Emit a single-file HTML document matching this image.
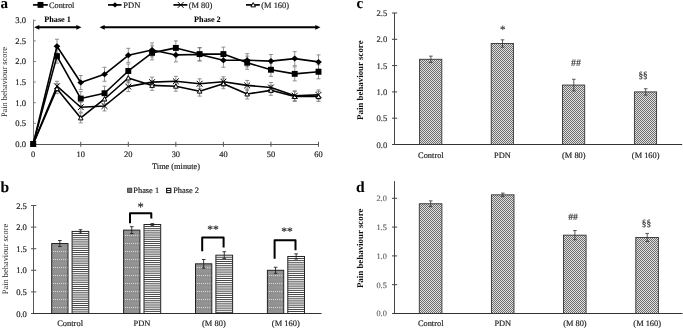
<!DOCTYPE html>
<html><head><meta charset="utf-8"><style>
html,body{margin:0;padding:0;background:#fff;}
svg{display:block;font-family:"Liberation Serif", serif;will-change:transform;text-rendering:geometricPrecision;}

</style></head><body>
<svg width="683" height="328" viewBox="0 0 683 328">
<defs>
<pattern id="check" width="2" height="2" patternUnits="userSpaceOnUse"><rect width="2" height="2" fill="#e0e0e0"/><rect width="1" height="1" fill="#6e6e6e"/><rect x="1" y="1" width="1" height="1" fill="#6e6e6e"/></pattern>
<pattern id="dots" width="2" height="8" patternUnits="userSpaceOnUse"><rect width="2" height="8" fill="#939393"/><rect x="1" y="3" width="1" height="1" fill="#d4d4d4"/><rect x="0" y="1" width="1" height="1" fill="#888"/><rect x="0" y="5" width="1" height="1" fill="#888"/></pattern>
<pattern id="hstripe" width="4" height="2" patternUnits="userSpaceOnUse"><rect width="4" height="2" fill="#f4f4f4"/><rect y="1" width="4" height="1" fill="#333"/></pattern>
</defs>
<rect width="683" height="328" fill="#fff"/>
<line x1="33.50" y1="19.80" x2="33.50" y2="144.40" stroke="#7a7a7a" stroke-width="1" />
<line x1="33.50" y1="143.90" x2="35.70" y2="143.90" stroke="#7a7a7a" stroke-width="1" />
<text x="26.10" y="146.80" font-size="8.6" text-anchor="end" font-weight="normal" fill="#222" stroke="#222" stroke-width="0.18" >0.0</text>
<line x1="33.50" y1="123.30" x2="35.70" y2="123.30" stroke="#7a7a7a" stroke-width="1" />
<text x="26.10" y="126.20" font-size="8.6" text-anchor="end" font-weight="normal" fill="#222" stroke="#222" stroke-width="0.18" >0.5</text>
<line x1="33.50" y1="102.70" x2="35.70" y2="102.70" stroke="#7a7a7a" stroke-width="1" />
<text x="26.10" y="105.60" font-size="8.6" text-anchor="end" font-weight="normal" fill="#222" stroke="#222" stroke-width="0.18" >1.0</text>
<line x1="33.50" y1="82.10" x2="35.70" y2="82.10" stroke="#7a7a7a" stroke-width="1" />
<text x="26.10" y="85.00" font-size="8.6" text-anchor="end" font-weight="normal" fill="#222" stroke="#222" stroke-width="0.18" >1.5</text>
<line x1="33.50" y1="61.50" x2="35.70" y2="61.50" stroke="#7a7a7a" stroke-width="1" />
<text x="26.10" y="64.40" font-size="8.6" text-anchor="end" font-weight="normal" fill="#222" stroke="#222" stroke-width="0.18" >2.0</text>
<line x1="33.50" y1="40.90" x2="35.70" y2="40.90" stroke="#7a7a7a" stroke-width="1" />
<text x="26.10" y="43.80" font-size="8.6" text-anchor="end" font-weight="normal" fill="#222" stroke="#222" stroke-width="0.18" >2.5</text>
<line x1="33.50" y1="20.30" x2="35.70" y2="20.30" stroke="#7a7a7a" stroke-width="1" />
<text x="26.10" y="23.20" font-size="8.6" text-anchor="end" font-weight="normal" fill="#222" stroke="#222" stroke-width="0.18" >3.0</text>
<line x1="33.20" y1="144.50" x2="319.00" y2="144.50" stroke="#555" stroke-width="1" />
<line x1="33.20" y1="141.80" x2="33.20" y2="146.80" stroke="#555" stroke-width="1" />
<text x="33.20" y="157.30" font-size="8.4" text-anchor="middle" font-weight="normal" fill="#222" stroke="#222" stroke-width="0.18" >0</text>
<line x1="80.75" y1="141.80" x2="80.75" y2="146.80" stroke="#555" stroke-width="1" />
<text x="80.75" y="157.30" font-size="8.4" text-anchor="middle" font-weight="normal" fill="#222" stroke="#222" stroke-width="0.18" >10</text>
<line x1="128.30" y1="141.80" x2="128.30" y2="146.80" stroke="#555" stroke-width="1" />
<text x="128.30" y="157.30" font-size="8.4" text-anchor="middle" font-weight="normal" fill="#222" stroke="#222" stroke-width="0.18" >20</text>
<line x1="175.85" y1="141.80" x2="175.85" y2="146.80" stroke="#555" stroke-width="1" />
<text x="175.85" y="157.30" font-size="8.4" text-anchor="middle" font-weight="normal" fill="#222" stroke="#222" stroke-width="0.18" >30</text>
<line x1="223.40" y1="141.80" x2="223.40" y2="146.80" stroke="#555" stroke-width="1" />
<text x="223.40" y="157.30" font-size="8.4" text-anchor="middle" font-weight="normal" fill="#222" stroke="#222" stroke-width="0.18" >40</text>
<line x1="270.95" y1="141.80" x2="270.95" y2="146.80" stroke="#555" stroke-width="1" />
<text x="270.95" y="157.30" font-size="8.4" text-anchor="middle" font-weight="normal" fill="#222" stroke="#222" stroke-width="0.18" >50</text>
<line x1="318.50" y1="141.80" x2="318.50" y2="146.80" stroke="#555" stroke-width="1" />
<text x="318.50" y="157.30" font-size="8.4" text-anchor="middle" font-weight="normal" fill="#222" stroke="#222" stroke-width="0.18" >60</text>
<text x="176.00" y="168.80" font-size="8.3" text-anchor="middle" font-weight="normal" fill="#222" stroke="#222" stroke-width="0.18" >Time (minute)</text>
<text transform="translate(7.0,82.1) rotate(-90)" font-size="8.35" text-anchor="middle" fill="#222">Pain behaviour score</text>
<line x1="33.00" y1="4.90" x2="47.80" y2="4.90" stroke="#000" stroke-width="1.7" />
<rect x="37.55" y="1.95" width="5.9" height="5.9" fill="#000"/>
<text x="49.00" y="7.80" font-size="8.3" text-anchor="start" font-weight="normal" fill="#222" stroke="#222" stroke-width="0.18" >Control</text>
<line x1="108.00" y1="4.90" x2="121.50" y2="4.90" stroke="#000" stroke-width="1.7" />
<path d="M115.00 2.20 L117.90 4.90 L115.00 7.60 L112.10 4.90Z" fill="#000"/>
<text x="123.30" y="7.80" font-size="8.5" text-anchor="start" font-weight="normal" fill="#222" stroke="#222" stroke-width="0.18" >PDN</text>
<line x1="173.40" y1="4.90" x2="187.40" y2="4.90" stroke="#000" stroke-width="1.7" />
<path d="M177.80 2.00 L183.60 7.80 M183.60 2.00 L177.80 7.80" stroke="#000" stroke-width="1" fill="none"/>
<text x="188.70" y="7.80" font-size="8.45" text-anchor="start" font-weight="normal" fill="#222" stroke="#222" stroke-width="0.18" >(M 80)</text>
<line x1="246.00" y1="4.90" x2="259.80" y2="4.90" stroke="#000" stroke-width="1.7" />
<path d="M253.20 2.60 L255.50 6.86 L250.90 6.86Z" stroke="#000" stroke-width="1" fill="#fff"/>
<text x="261.30" y="7.80" font-size="8.4" text-anchor="start" font-weight="normal" fill="#222" stroke="#222" stroke-width="0.18" >(M 160)</text>
<line x1="38.10" y1="27.30" x2="77.50" y2="27.30" stroke="#000" stroke-width="2" />
<path d="M34.10 27.3 L39.30 24.90 L39.30 29.70Z" fill="#000"/>
<path d="M81.50 27.3 L76.30 24.90 L76.30 29.70Z" fill="#000"/>
<line x1="103.50" y1="27.30" x2="316.50" y2="27.30" stroke="#000" stroke-width="2" />
<path d="M99.50 27.3 L104.70 24.90 L104.70 29.70Z" fill="#000"/>
<path d="M320.50 27.3 L315.30 24.90 L315.30 29.70Z" fill="#000"/>
<text x="57.60" y="22.20" font-size="8.2" text-anchor="middle" font-weight="bold" fill="#000" stroke="#000" stroke-width="0.05" >Phase 1</text>
<text x="207.40" y="22.20" font-size="8.2" text-anchor="middle" font-weight="bold" fill="#000" stroke="#000" stroke-width="0.05" >Phase 2</text>
<line x1="33.20" y1="141.84" x2="33.20" y2="145.96" stroke="#777" stroke-width="0.8" />
<line x1="31.20" y1="141.84" x2="35.20" y2="141.84" stroke="#777" stroke-width="0.8" />
<line x1="31.20" y1="145.96" x2="35.20" y2="145.96" stroke="#777" stroke-width="0.8" />
<line x1="56.98" y1="83.75" x2="56.98" y2="93.64" stroke="#777" stroke-width="0.8" />
<line x1="54.98" y1="83.75" x2="58.98" y2="83.75" stroke="#777" stroke-width="0.8" />
<line x1="54.98" y1="93.64" x2="58.98" y2="93.64" stroke="#777" stroke-width="0.8" />
<line x1="80.75" y1="113.00" x2="80.75" y2="122.89" stroke="#777" stroke-width="0.8" />
<line x1="78.75" y1="113.00" x2="82.75" y2="113.00" stroke="#777" stroke-width="0.8" />
<line x1="78.75" y1="122.89" x2="82.75" y2="122.89" stroke="#777" stroke-width="0.8" />
<line x1="104.53" y1="94.05" x2="104.53" y2="103.94" stroke="#777" stroke-width="0.8" />
<line x1="102.53" y1="94.05" x2="106.53" y2="94.05" stroke="#777" stroke-width="0.8" />
<line x1="102.53" y1="103.94" x2="106.53" y2="103.94" stroke="#777" stroke-width="0.8" />
<line x1="128.30" y1="73.04" x2="128.30" y2="82.92" stroke="#777" stroke-width="0.8" />
<line x1="126.30" y1="73.04" x2="130.30" y2="73.04" stroke="#777" stroke-width="0.8" />
<line x1="126.30" y1="82.92" x2="130.30" y2="82.92" stroke="#777" stroke-width="0.8" />
<line x1="152.07" y1="80.45" x2="152.07" y2="90.34" stroke="#777" stroke-width="0.8" />
<line x1="150.07" y1="80.45" x2="154.07" y2="80.45" stroke="#777" stroke-width="0.8" />
<line x1="150.07" y1="90.34" x2="154.07" y2="90.34" stroke="#777" stroke-width="0.8" />
<line x1="175.85" y1="81.28" x2="175.85" y2="91.16" stroke="#777" stroke-width="0.8" />
<line x1="173.85" y1="81.28" x2="177.85" y2="81.28" stroke="#777" stroke-width="0.8" />
<line x1="173.85" y1="91.16" x2="177.85" y2="91.16" stroke="#777" stroke-width="0.8" />
<line x1="199.62" y1="86.22" x2="199.62" y2="96.11" stroke="#777" stroke-width="0.8" />
<line x1="197.62" y1="86.22" x2="201.62" y2="86.22" stroke="#777" stroke-width="0.8" />
<line x1="197.62" y1="96.11" x2="201.62" y2="96.11" stroke="#777" stroke-width="0.8" />
<line x1="223.40" y1="78.80" x2="223.40" y2="88.69" stroke="#777" stroke-width="0.8" />
<line x1="221.40" y1="78.80" x2="225.40" y2="78.80" stroke="#777" stroke-width="0.8" />
<line x1="221.40" y1="88.69" x2="225.40" y2="88.69" stroke="#777" stroke-width="0.8" />
<line x1="247.18" y1="89.10" x2="247.18" y2="98.99" stroke="#777" stroke-width="0.8" />
<line x1="245.18" y1="89.10" x2="249.18" y2="89.10" stroke="#777" stroke-width="0.8" />
<line x1="245.18" y1="98.99" x2="249.18" y2="98.99" stroke="#777" stroke-width="0.8" />
<line x1="270.95" y1="85.40" x2="270.95" y2="95.28" stroke="#777" stroke-width="0.8" />
<line x1="268.95" y1="85.40" x2="272.95" y2="85.40" stroke="#777" stroke-width="0.8" />
<line x1="268.95" y1="95.28" x2="272.95" y2="95.28" stroke="#777" stroke-width="0.8" />
<line x1="294.72" y1="91.58" x2="294.72" y2="101.46" stroke="#777" stroke-width="0.8" />
<line x1="292.72" y1="91.58" x2="296.72" y2="91.58" stroke="#777" stroke-width="0.8" />
<line x1="292.72" y1="101.46" x2="296.72" y2="101.46" stroke="#777" stroke-width="0.8" />
<line x1="318.50" y1="91.58" x2="318.50" y2="101.46" stroke="#777" stroke-width="0.8" />
<line x1="316.50" y1="91.58" x2="320.50" y2="91.58" stroke="#777" stroke-width="0.8" />
<line x1="316.50" y1="101.46" x2="320.50" y2="101.46" stroke="#777" stroke-width="0.8" />
<line x1="33.20" y1="141.84" x2="33.20" y2="145.96" stroke="#777" stroke-width="0.8" />
<line x1="31.20" y1="141.84" x2="35.20" y2="141.84" stroke="#777" stroke-width="0.8" />
<line x1="31.20" y1="145.96" x2="35.20" y2="145.96" stroke="#777" stroke-width="0.8" />
<line x1="56.98" y1="81.28" x2="56.98" y2="91.16" stroke="#777" stroke-width="0.8" />
<line x1="54.98" y1="81.28" x2="58.98" y2="81.28" stroke="#777" stroke-width="0.8" />
<line x1="54.98" y1="91.16" x2="58.98" y2="91.16" stroke="#777" stroke-width="0.8" />
<line x1="80.75" y1="102.29" x2="80.75" y2="112.18" stroke="#777" stroke-width="0.8" />
<line x1="78.75" y1="102.29" x2="82.75" y2="102.29" stroke="#777" stroke-width="0.8" />
<line x1="78.75" y1="112.18" x2="82.75" y2="112.18" stroke="#777" stroke-width="0.8" />
<line x1="104.53" y1="101.05" x2="104.53" y2="110.94" stroke="#777" stroke-width="0.8" />
<line x1="102.53" y1="101.05" x2="106.53" y2="101.05" stroke="#777" stroke-width="0.8" />
<line x1="102.53" y1="110.94" x2="106.53" y2="110.94" stroke="#777" stroke-width="0.8" />
<line x1="128.30" y1="81.69" x2="128.30" y2="91.58" stroke="#777" stroke-width="0.8" />
<line x1="126.30" y1="81.69" x2="130.30" y2="81.69" stroke="#777" stroke-width="0.8" />
<line x1="126.30" y1="91.58" x2="130.30" y2="91.58" stroke="#777" stroke-width="0.8" />
<line x1="152.07" y1="77.16" x2="152.07" y2="87.04" stroke="#777" stroke-width="0.8" />
<line x1="150.07" y1="77.16" x2="154.07" y2="77.16" stroke="#777" stroke-width="0.8" />
<line x1="150.07" y1="87.04" x2="154.07" y2="87.04" stroke="#777" stroke-width="0.8" />
<line x1="175.85" y1="76.33" x2="175.85" y2="86.22" stroke="#777" stroke-width="0.8" />
<line x1="173.85" y1="76.33" x2="177.85" y2="76.33" stroke="#777" stroke-width="0.8" />
<line x1="173.85" y1="86.22" x2="177.85" y2="86.22" stroke="#777" stroke-width="0.8" />
<line x1="199.62" y1="78.80" x2="199.62" y2="88.69" stroke="#777" stroke-width="0.8" />
<line x1="197.62" y1="78.80" x2="201.62" y2="78.80" stroke="#777" stroke-width="0.8" />
<line x1="197.62" y1="88.69" x2="201.62" y2="88.69" stroke="#777" stroke-width="0.8" />
<line x1="223.40" y1="76.74" x2="223.40" y2="86.63" stroke="#777" stroke-width="0.8" />
<line x1="221.40" y1="76.74" x2="225.40" y2="76.74" stroke="#777" stroke-width="0.8" />
<line x1="221.40" y1="86.63" x2="225.40" y2="86.63" stroke="#777" stroke-width="0.8" />
<line x1="247.18" y1="80.45" x2="247.18" y2="90.34" stroke="#777" stroke-width="0.8" />
<line x1="245.18" y1="80.45" x2="249.18" y2="80.45" stroke="#777" stroke-width="0.8" />
<line x1="245.18" y1="90.34" x2="249.18" y2="90.34" stroke="#777" stroke-width="0.8" />
<line x1="270.95" y1="82.51" x2="270.95" y2="92.40" stroke="#777" stroke-width="0.8" />
<line x1="268.95" y1="82.51" x2="272.95" y2="82.51" stroke="#777" stroke-width="0.8" />
<line x1="268.95" y1="92.40" x2="272.95" y2="92.40" stroke="#777" stroke-width="0.8" />
<line x1="294.72" y1="90.75" x2="294.72" y2="100.64" stroke="#777" stroke-width="0.8" />
<line x1="292.72" y1="90.75" x2="296.72" y2="90.75" stroke="#777" stroke-width="0.8" />
<line x1="292.72" y1="100.64" x2="296.72" y2="100.64" stroke="#777" stroke-width="0.8" />
<line x1="318.50" y1="89.93" x2="318.50" y2="99.82" stroke="#777" stroke-width="0.8" />
<line x1="316.50" y1="89.93" x2="320.50" y2="89.93" stroke="#777" stroke-width="0.8" />
<line x1="316.50" y1="99.82" x2="320.50" y2="99.82" stroke="#777" stroke-width="0.8" />
<line x1="33.20" y1="141.84" x2="33.20" y2="145.96" stroke="#777" stroke-width="0.8" />
<line x1="31.20" y1="141.84" x2="35.20" y2="141.84" stroke="#777" stroke-width="0.8" />
<line x1="31.20" y1="145.96" x2="35.20" y2="145.96" stroke="#777" stroke-width="0.8" />
<line x1="56.98" y1="49.14" x2="56.98" y2="63.15" stroke="#777" stroke-width="0.8" />
<line x1="54.98" y1="49.14" x2="58.98" y2="49.14" stroke="#777" stroke-width="0.8" />
<line x1="54.98" y1="63.15" x2="58.98" y2="63.15" stroke="#777" stroke-width="0.8" />
<line x1="80.75" y1="91.58" x2="80.75" y2="105.58" stroke="#777" stroke-width="0.8" />
<line x1="78.75" y1="91.58" x2="82.75" y2="91.58" stroke="#777" stroke-width="0.8" />
<line x1="78.75" y1="105.58" x2="82.75" y2="105.58" stroke="#777" stroke-width="0.8" />
<line x1="104.53" y1="86.22" x2="104.53" y2="100.23" stroke="#777" stroke-width="0.8" />
<line x1="102.53" y1="86.22" x2="106.53" y2="86.22" stroke="#777" stroke-width="0.8" />
<line x1="102.53" y1="100.23" x2="106.53" y2="100.23" stroke="#777" stroke-width="0.8" />
<line x1="128.30" y1="63.97" x2="128.30" y2="77.98" stroke="#777" stroke-width="0.8" />
<line x1="126.30" y1="63.97" x2="130.30" y2="63.97" stroke="#777" stroke-width="0.8" />
<line x1="126.30" y1="77.98" x2="130.30" y2="77.98" stroke="#777" stroke-width="0.8" />
<line x1="152.07" y1="45.84" x2="152.07" y2="59.85" stroke="#777" stroke-width="0.8" />
<line x1="150.07" y1="45.84" x2="154.07" y2="45.84" stroke="#777" stroke-width="0.8" />
<line x1="150.07" y1="59.85" x2="154.07" y2="59.85" stroke="#777" stroke-width="0.8" />
<line x1="175.85" y1="40.90" x2="175.85" y2="54.91" stroke="#777" stroke-width="0.8" />
<line x1="173.85" y1="40.90" x2="177.85" y2="40.90" stroke="#777" stroke-width="0.8" />
<line x1="173.85" y1="54.91" x2="177.85" y2="54.91" stroke="#777" stroke-width="0.8" />
<line x1="199.62" y1="47.49" x2="199.62" y2="60.68" stroke="#777" stroke-width="0.8" />
<line x1="197.62" y1="47.49" x2="201.62" y2="47.49" stroke="#777" stroke-width="0.8" />
<line x1="197.62" y1="60.68" x2="201.62" y2="60.68" stroke="#777" stroke-width="0.8" />
<line x1="223.40" y1="47.08" x2="223.40" y2="61.09" stroke="#777" stroke-width="0.8" />
<line x1="221.40" y1="47.08" x2="225.40" y2="47.08" stroke="#777" stroke-width="0.8" />
<line x1="221.40" y1="61.09" x2="225.40" y2="61.09" stroke="#777" stroke-width="0.8" />
<line x1="247.18" y1="56.14" x2="247.18" y2="69.33" stroke="#777" stroke-width="0.8" />
<line x1="245.18" y1="56.14" x2="249.18" y2="56.14" stroke="#777" stroke-width="0.8" />
<line x1="245.18" y1="69.33" x2="249.18" y2="69.33" stroke="#777" stroke-width="0.8" />
<line x1="270.95" y1="63.15" x2="270.95" y2="76.33" stroke="#777" stroke-width="0.8" />
<line x1="268.95" y1="63.15" x2="272.95" y2="63.15" stroke="#777" stroke-width="0.8" />
<line x1="268.95" y1="76.33" x2="272.95" y2="76.33" stroke="#777" stroke-width="0.8" />
<line x1="294.72" y1="66.86" x2="294.72" y2="80.86" stroke="#777" stroke-width="0.8" />
<line x1="292.72" y1="66.86" x2="296.72" y2="66.86" stroke="#777" stroke-width="0.8" />
<line x1="292.72" y1="80.86" x2="296.72" y2="80.86" stroke="#777" stroke-width="0.8" />
<line x1="318.50" y1="64.80" x2="318.50" y2="78.80" stroke="#777" stroke-width="0.8" />
<line x1="316.50" y1="64.80" x2="320.50" y2="64.80" stroke="#777" stroke-width="0.8" />
<line x1="316.50" y1="78.80" x2="320.50" y2="78.80" stroke="#777" stroke-width="0.8" />
<line x1="33.20" y1="141.84" x2="33.20" y2="145.96" stroke="#777" stroke-width="0.8" />
<line x1="31.20" y1="141.84" x2="35.20" y2="141.84" stroke="#777" stroke-width="0.8" />
<line x1="31.20" y1="145.96" x2="35.20" y2="145.96" stroke="#777" stroke-width="0.8" />
<line x1="56.98" y1="39.25" x2="56.98" y2="53.26" stroke="#777" stroke-width="0.8" />
<line x1="54.98" y1="39.25" x2="58.98" y2="39.25" stroke="#777" stroke-width="0.8" />
<line x1="54.98" y1="53.26" x2="58.98" y2="53.26" stroke="#777" stroke-width="0.8" />
<line x1="80.75" y1="75.51" x2="80.75" y2="89.52" stroke="#777" stroke-width="0.8" />
<line x1="78.75" y1="75.51" x2="82.75" y2="75.51" stroke="#777" stroke-width="0.8" />
<line x1="78.75" y1="89.52" x2="82.75" y2="89.52" stroke="#777" stroke-width="0.8" />
<line x1="104.53" y1="67.27" x2="104.53" y2="81.28" stroke="#777" stroke-width="0.8" />
<line x1="102.53" y1="67.27" x2="106.53" y2="67.27" stroke="#777" stroke-width="0.8" />
<line x1="102.53" y1="81.28" x2="106.53" y2="81.28" stroke="#777" stroke-width="0.8" />
<line x1="128.30" y1="48.32" x2="128.30" y2="62.32" stroke="#777" stroke-width="0.8" />
<line x1="126.30" y1="48.32" x2="130.30" y2="48.32" stroke="#777" stroke-width="0.8" />
<line x1="126.30" y1="62.32" x2="130.30" y2="62.32" stroke="#777" stroke-width="0.8" />
<line x1="152.07" y1="42.96" x2="152.07" y2="56.97" stroke="#777" stroke-width="0.8" />
<line x1="150.07" y1="42.96" x2="154.07" y2="42.96" stroke="#777" stroke-width="0.8" />
<line x1="150.07" y1="56.97" x2="154.07" y2="56.97" stroke="#777" stroke-width="0.8" />
<line x1="175.85" y1="47.90" x2="175.85" y2="61.91" stroke="#777" stroke-width="0.8" />
<line x1="173.85" y1="47.90" x2="177.85" y2="47.90" stroke="#777" stroke-width="0.8" />
<line x1="173.85" y1="61.91" x2="177.85" y2="61.91" stroke="#777" stroke-width="0.8" />
<line x1="199.62" y1="47.90" x2="199.62" y2="61.09" stroke="#777" stroke-width="0.8" />
<line x1="197.62" y1="47.90" x2="201.62" y2="47.90" stroke="#777" stroke-width="0.8" />
<line x1="197.62" y1="61.09" x2="201.62" y2="61.09" stroke="#777" stroke-width="0.8" />
<line x1="223.40" y1="53.26" x2="223.40" y2="67.27" stroke="#777" stroke-width="0.8" />
<line x1="221.40" y1="53.26" x2="225.40" y2="53.26" stroke="#777" stroke-width="0.8" />
<line x1="221.40" y1="67.27" x2="225.40" y2="67.27" stroke="#777" stroke-width="0.8" />
<line x1="247.18" y1="53.67" x2="247.18" y2="66.86" stroke="#777" stroke-width="0.8" />
<line x1="245.18" y1="53.67" x2="249.18" y2="53.67" stroke="#777" stroke-width="0.8" />
<line x1="245.18" y1="66.86" x2="249.18" y2="66.86" stroke="#777" stroke-width="0.8" />
<line x1="270.95" y1="54.50" x2="270.95" y2="67.68" stroke="#777" stroke-width="0.8" />
<line x1="268.95" y1="54.50" x2="272.95" y2="54.50" stroke="#777" stroke-width="0.8" />
<line x1="268.95" y1="67.68" x2="272.95" y2="67.68" stroke="#777" stroke-width="0.8" />
<line x1="294.72" y1="51.61" x2="294.72" y2="65.62" stroke="#777" stroke-width="0.8" />
<line x1="292.72" y1="51.61" x2="296.72" y2="51.61" stroke="#777" stroke-width="0.8" />
<line x1="292.72" y1="65.62" x2="296.72" y2="65.62" stroke="#777" stroke-width="0.8" />
<line x1="318.50" y1="54.91" x2="318.50" y2="68.92" stroke="#777" stroke-width="0.8" />
<line x1="316.50" y1="54.91" x2="320.50" y2="54.91" stroke="#777" stroke-width="0.8" />
<line x1="316.50" y1="68.92" x2="320.50" y2="68.92" stroke="#777" stroke-width="0.8" />
<polyline points="33.20,143.90 56.98,88.69 80.75,117.94 104.53,98.99 128.30,77.98 152.07,85.40 175.85,86.22 199.62,91.16 223.40,83.75 247.18,94.05 270.95,90.34 294.72,96.52 318.50,96.52" fill="none" stroke="#000" stroke-width="1.6" stroke-linejoin="round"/>
<polyline points="33.20,143.90 56.98,86.22 80.75,107.23 104.53,106.00 128.30,86.63 152.07,82.10 175.85,81.28 199.62,83.75 223.40,81.69 247.18,85.40 270.95,87.46 294.72,95.70 318.50,94.87" fill="none" stroke="#000" stroke-width="1.6" stroke-linejoin="round"/>
<polyline points="33.20,143.90 56.98,56.14 80.75,98.58 104.53,93.22 128.30,70.98 152.07,52.85 175.85,47.90 199.62,54.08 223.40,54.08 247.18,62.74 270.95,69.74 294.72,73.86 318.50,71.80" fill="none" stroke="#000" stroke-width="1.6" stroke-linejoin="round"/>
<polyline points="33.20,143.90 56.98,46.26 80.75,82.51 104.53,74.27 128.30,55.32 152.07,49.96 175.85,54.91 199.62,54.50 223.40,60.26 247.18,60.26 270.95,61.09 294.72,58.62 318.50,61.91" fill="none" stroke="#000" stroke-width="1.6" stroke-linejoin="round"/>
<path d="M33.20 141.60 L35.50 145.86 L30.90 145.86Z" stroke="#000" stroke-width="1" fill="#fff"/>
<path d="M56.98 86.39 L59.27 90.65 L54.68 90.65Z" stroke="#000" stroke-width="1" fill="#fff"/>
<path d="M80.75 115.64 L83.05 119.90 L78.45 119.90Z" stroke="#000" stroke-width="1" fill="#fff"/>
<path d="M104.53 96.69 L106.83 100.95 L102.23 100.95Z" stroke="#000" stroke-width="1" fill="#fff"/>
<path d="M128.30 75.68 L130.60 79.94 L126.00 79.94Z" stroke="#000" stroke-width="1" fill="#fff"/>
<path d="M152.07 83.10 L154.38 87.35 L149.77 87.35Z" stroke="#000" stroke-width="1" fill="#fff"/>
<path d="M175.85 83.92 L178.15 88.17 L173.55 88.17Z" stroke="#000" stroke-width="1" fill="#fff"/>
<path d="M199.62 88.86 L201.93 93.12 L197.32 93.12Z" stroke="#000" stroke-width="1" fill="#fff"/>
<path d="M223.40 81.45 L225.70 85.70 L221.10 85.70Z" stroke="#000" stroke-width="1" fill="#fff"/>
<path d="M247.18 91.75 L249.48 96.00 L244.88 96.00Z" stroke="#000" stroke-width="1" fill="#fff"/>
<path d="M270.95 88.04 L273.25 92.30 L268.65 92.30Z" stroke="#000" stroke-width="1" fill="#fff"/>
<path d="M294.72 94.22 L297.02 98.48 L292.42 98.48Z" stroke="#000" stroke-width="1" fill="#fff"/>
<path d="M318.50 94.22 L320.80 98.48 L316.20 98.48Z" stroke="#000" stroke-width="1" fill="#fff"/>
<path d="M30.30 141.00 L36.10 146.80 M36.10 141.00 L30.30 146.80" stroke="#000" stroke-width="1" fill="none"/>
<path d="M54.08 83.32 L59.88 89.12 M59.88 83.32 L54.08 89.12" stroke="#000" stroke-width="1" fill="none"/>
<path d="M77.85 104.33 L83.65 110.13 M83.65 104.33 L77.85 110.13" stroke="#000" stroke-width="1" fill="none"/>
<path d="M101.62 103.10 L107.43 108.90 M107.43 103.10 L101.62 108.90" stroke="#000" stroke-width="1" fill="none"/>
<path d="M125.40 83.73 L131.20 89.53 M131.20 83.73 L125.40 89.53" stroke="#000" stroke-width="1" fill="none"/>
<path d="M149.17 79.20 L154.97 85.00 M154.97 79.20 L149.17 85.00" stroke="#000" stroke-width="1" fill="none"/>
<path d="M172.95 78.38 L178.75 84.18 M178.75 78.38 L172.95 84.18" stroke="#000" stroke-width="1" fill="none"/>
<path d="M196.72 80.85 L202.53 86.65 M202.53 80.85 L196.72 86.65" stroke="#000" stroke-width="1" fill="none"/>
<path d="M220.50 78.79 L226.30 84.59 M226.30 78.79 L220.50 84.59" stroke="#000" stroke-width="1" fill="none"/>
<path d="M244.28 82.50 L250.08 88.30 M250.08 82.50 L244.28 88.30" stroke="#000" stroke-width="1" fill="none"/>
<path d="M268.05 84.56 L273.85 90.36 M273.85 84.56 L268.05 90.36" stroke="#000" stroke-width="1" fill="none"/>
<path d="M291.82 92.80 L297.62 98.60 M297.62 92.80 L291.82 98.60" stroke="#000" stroke-width="1" fill="none"/>
<path d="M315.60 91.97 L321.40 97.77 M321.40 91.97 L315.60 97.77" stroke="#000" stroke-width="1" fill="none"/>
<rect x="30.25" y="140.95" width="5.9" height="5.9" fill="#000"/>
<rect x="54.02" y="53.19" width="5.9" height="5.9" fill="#000"/>
<rect x="77.80" y="95.63" width="5.9" height="5.9" fill="#000"/>
<rect x="101.58" y="90.27" width="5.9" height="5.9" fill="#000"/>
<rect x="125.35" y="68.03" width="5.9" height="5.9" fill="#000"/>
<rect x="149.12" y="49.90" width="5.9" height="5.9" fill="#000"/>
<rect x="172.90" y="44.95" width="5.9" height="5.9" fill="#000"/>
<rect x="196.68" y="51.13" width="5.9" height="5.9" fill="#000"/>
<rect x="220.45" y="51.13" width="5.9" height="5.9" fill="#000"/>
<rect x="244.23" y="59.79" width="5.9" height="5.9" fill="#000"/>
<rect x="268.00" y="66.79" width="5.9" height="5.9" fill="#000"/>
<rect x="291.77" y="70.91" width="5.9" height="5.9" fill="#000"/>
<rect x="315.55" y="68.85" width="5.9" height="5.9" fill="#000"/>
<path d="M33.20 140.90 L36.60 143.90 L33.20 146.90 L29.80 143.90Z" fill="#000"/>
<path d="M56.98 43.26 L60.38 46.26 L56.98 49.26 L53.58 46.26Z" fill="#000"/>
<path d="M80.75 79.51 L84.15 82.51 L80.75 85.51 L77.35 82.51Z" fill="#000"/>
<path d="M104.53 71.27 L107.93 74.27 L104.53 77.27 L101.12 74.27Z" fill="#000"/>
<path d="M128.30 52.32 L131.70 55.32 L128.30 58.32 L124.90 55.32Z" fill="#000"/>
<path d="M152.07 46.96 L155.47 49.96 L152.07 52.96 L148.67 49.96Z" fill="#000"/>
<path d="M175.85 51.91 L179.25 54.91 L175.85 57.91 L172.45 54.91Z" fill="#000"/>
<path d="M199.62 51.50 L203.03 54.50 L199.62 57.50 L196.22 54.50Z" fill="#000"/>
<path d="M223.40 57.26 L226.80 60.26 L223.40 63.26 L220.00 60.26Z" fill="#000"/>
<path d="M247.18 57.26 L250.58 60.26 L247.18 63.26 L243.78 60.26Z" fill="#000"/>
<path d="M270.95 58.09 L274.35 61.09 L270.95 64.09 L267.55 61.09Z" fill="#000"/>
<path d="M294.72 55.62 L298.12 58.62 L294.72 61.62 L291.32 58.62Z" fill="#000"/>
<path d="M318.50 58.91 L321.90 61.91 L318.50 64.91 L315.10 61.91Z" fill="#000"/>
<text x="0.40" y="7.90" font-size="15" text-anchor="start" font-weight="bold" fill="#000" stroke="#000" stroke-width="0.05" >a</text>
<text x="0.50" y="192.00" font-size="15.5" text-anchor="start" font-weight="bold" fill="#000" stroke="#000" stroke-width="0.05" >b</text>
<text x="356.40" y="7.90" font-size="15" text-anchor="start" font-weight="bold" fill="#000" stroke="#000" stroke-width="0.05" >c</text>
<text x="356.00" y="191.80" font-size="15.5" text-anchor="start" font-weight="bold" fill="#000" stroke="#000" stroke-width="0.05" >d</text>
<line x1="33.50" y1="205.30" x2="33.50" y2="314.00" stroke="#555" stroke-width="1" />
<line x1="31.00" y1="313.50" x2="36.30" y2="313.50" stroke="#555" stroke-width="1" />
<text x="26.90" y="316.60" font-size="8.6" text-anchor="end" font-weight="normal" fill="#222" stroke="#222" stroke-width="0.18" >0.0</text>
<line x1="31.00" y1="291.90" x2="36.30" y2="291.90" stroke="#555" stroke-width="1" />
<text x="26.90" y="295.00" font-size="8.6" text-anchor="end" font-weight="normal" fill="#222" stroke="#222" stroke-width="0.18" >0.5</text>
<line x1="31.00" y1="270.30" x2="36.30" y2="270.30" stroke="#555" stroke-width="1" />
<text x="26.90" y="273.40" font-size="8.6" text-anchor="end" font-weight="normal" fill="#222" stroke="#222" stroke-width="0.18" >1.0</text>
<line x1="31.00" y1="248.70" x2="36.30" y2="248.70" stroke="#555" stroke-width="1" />
<text x="26.90" y="251.80" font-size="8.6" text-anchor="end" font-weight="normal" fill="#222" stroke="#222" stroke-width="0.18" >1.5</text>
<line x1="31.00" y1="227.10" x2="36.30" y2="227.10" stroke="#555" stroke-width="1" />
<text x="26.90" y="230.20" font-size="8.6" text-anchor="end" font-weight="normal" fill="#222" stroke="#222" stroke-width="0.18" >2.0</text>
<line x1="31.00" y1="205.50" x2="36.30" y2="205.50" stroke="#555" stroke-width="1" />
<text x="26.90" y="208.60" font-size="8.6" text-anchor="end" font-weight="normal" fill="#222" stroke="#222" stroke-width="0.18" >2.5</text>
<line x1="33.00" y1="313.50" x2="321.50" y2="313.50" stroke="#333" stroke-width="1" />
<text transform="translate(7.6,259.0) rotate(-90)" font-size="8.4" text-anchor="middle" fill="#222">Pain behaviour score</text>
<rect x="51.70" y="243.52" width="16.3" height="69.98" fill="url(#dots)" stroke="#222" stroke-width="1"/>
<rect x="72.10" y="231.42" width="16.7" height="82.08" fill="#fff" stroke="#222" stroke-width="1"/>
<rect x="72.10" y="233.02" width="16.7" height="0.9" fill="#333"/>
<rect x="72.10" y="235.14" width="16.7" height="0.9" fill="#333"/>
<rect x="72.10" y="237.26" width="16.7" height="0.9" fill="#333"/>
<rect x="72.10" y="239.38" width="16.7" height="0.9" fill="#333"/>
<rect x="72.10" y="241.50" width="16.7" height="0.9" fill="#333"/>
<rect x="72.10" y="243.62" width="16.7" height="0.9" fill="#333"/>
<rect x="72.10" y="245.74" width="16.7" height="0.9" fill="#333"/>
<rect x="72.10" y="247.86" width="16.7" height="0.9" fill="#333"/>
<rect x="72.10" y="249.98" width="16.7" height="0.9" fill="#333"/>
<rect x="72.10" y="252.10" width="16.7" height="0.9" fill="#333"/>
<rect x="72.10" y="254.22" width="16.7" height="0.9" fill="#333"/>
<rect x="72.10" y="256.34" width="16.7" height="0.9" fill="#333"/>
<rect x="72.10" y="258.46" width="16.7" height="0.9" fill="#333"/>
<rect x="72.10" y="260.58" width="16.7" height="0.9" fill="#333"/>
<rect x="72.10" y="262.70" width="16.7" height="0.9" fill="#333"/>
<rect x="72.10" y="264.82" width="16.7" height="0.9" fill="#333"/>
<rect x="72.10" y="266.94" width="16.7" height="0.9" fill="#333"/>
<rect x="72.10" y="269.06" width="16.7" height="0.9" fill="#333"/>
<rect x="72.10" y="271.18" width="16.7" height="0.9" fill="#333"/>
<rect x="72.10" y="273.30" width="16.7" height="0.9" fill="#333"/>
<rect x="72.10" y="275.42" width="16.7" height="0.9" fill="#333"/>
<rect x="72.10" y="277.54" width="16.7" height="0.9" fill="#333"/>
<rect x="72.10" y="279.66" width="16.7" height="0.9" fill="#333"/>
<rect x="72.10" y="281.78" width="16.7" height="0.9" fill="#333"/>
<rect x="72.10" y="283.90" width="16.7" height="0.9" fill="#333"/>
<rect x="72.10" y="286.02" width="16.7" height="0.9" fill="#333"/>
<rect x="72.10" y="288.14" width="16.7" height="0.9" fill="#333"/>
<rect x="72.10" y="290.26" width="16.7" height="0.9" fill="#333"/>
<rect x="72.10" y="292.38" width="16.7" height="0.9" fill="#333"/>
<rect x="72.10" y="294.50" width="16.7" height="0.9" fill="#333"/>
<rect x="72.10" y="296.62" width="16.7" height="0.9" fill="#333"/>
<rect x="72.10" y="298.74" width="16.7" height="0.9" fill="#333"/>
<rect x="72.10" y="300.86" width="16.7" height="0.9" fill="#333"/>
<rect x="72.10" y="302.98" width="16.7" height="0.9" fill="#333"/>
<rect x="72.10" y="305.10" width="16.7" height="0.9" fill="#333"/>
<rect x="72.10" y="307.22" width="16.7" height="0.9" fill="#333"/>
<rect x="72.10" y="309.34" width="16.7" height="0.9" fill="#333"/>
<rect x="72.10" y="311.46" width="16.7" height="0.9" fill="#333"/>
<line x1="59.85" y1="240.49" x2="59.85" y2="246.54" stroke="#222" stroke-width="0.9" />
<line x1="58.05" y1="240.49" x2="61.65" y2="240.49" stroke="#222" stroke-width="0.9" />
<line x1="58.05" y1="246.54" x2="61.65" y2="246.54" stroke="#222" stroke-width="0.9" />
<line x1="80.45" y1="229.69" x2="80.45" y2="233.15" stroke="#222" stroke-width="0.9" />
<line x1="78.65" y1="229.69" x2="82.25" y2="229.69" stroke="#222" stroke-width="0.9" />
<line x1="78.65" y1="233.15" x2="82.25" y2="233.15" stroke="#222" stroke-width="0.9" />
<text x="70.10" y="325.80" font-size="8.45" text-anchor="middle" font-weight="normal" fill="#222" stroke="#222" stroke-width="0.18" >Control</text>
<rect x="123.60" y="230.12" width="16.3" height="83.38" fill="url(#dots)" stroke="#222" stroke-width="1"/>
<rect x="144.00" y="224.51" width="16.7" height="88.99" fill="#fff" stroke="#222" stroke-width="1"/>
<rect x="144.00" y="226.11" width="16.7" height="0.9" fill="#333"/>
<rect x="144.00" y="228.23" width="16.7" height="0.9" fill="#333"/>
<rect x="144.00" y="230.35" width="16.7" height="0.9" fill="#333"/>
<rect x="144.00" y="232.47" width="16.7" height="0.9" fill="#333"/>
<rect x="144.00" y="234.59" width="16.7" height="0.9" fill="#333"/>
<rect x="144.00" y="236.71" width="16.7" height="0.9" fill="#333"/>
<rect x="144.00" y="238.83" width="16.7" height="0.9" fill="#333"/>
<rect x="144.00" y="240.95" width="16.7" height="0.9" fill="#333"/>
<rect x="144.00" y="243.07" width="16.7" height="0.9" fill="#333"/>
<rect x="144.00" y="245.19" width="16.7" height="0.9" fill="#333"/>
<rect x="144.00" y="247.31" width="16.7" height="0.9" fill="#333"/>
<rect x="144.00" y="249.43" width="16.7" height="0.9" fill="#333"/>
<rect x="144.00" y="251.55" width="16.7" height="0.9" fill="#333"/>
<rect x="144.00" y="253.67" width="16.7" height="0.9" fill="#333"/>
<rect x="144.00" y="255.79" width="16.7" height="0.9" fill="#333"/>
<rect x="144.00" y="257.91" width="16.7" height="0.9" fill="#333"/>
<rect x="144.00" y="260.03" width="16.7" height="0.9" fill="#333"/>
<rect x="144.00" y="262.15" width="16.7" height="0.9" fill="#333"/>
<rect x="144.00" y="264.27" width="16.7" height="0.9" fill="#333"/>
<rect x="144.00" y="266.39" width="16.7" height="0.9" fill="#333"/>
<rect x="144.00" y="268.51" width="16.7" height="0.9" fill="#333"/>
<rect x="144.00" y="270.63" width="16.7" height="0.9" fill="#333"/>
<rect x="144.00" y="272.75" width="16.7" height="0.9" fill="#333"/>
<rect x="144.00" y="274.87" width="16.7" height="0.9" fill="#333"/>
<rect x="144.00" y="276.99" width="16.7" height="0.9" fill="#333"/>
<rect x="144.00" y="279.11" width="16.7" height="0.9" fill="#333"/>
<rect x="144.00" y="281.23" width="16.7" height="0.9" fill="#333"/>
<rect x="144.00" y="283.35" width="16.7" height="0.9" fill="#333"/>
<rect x="144.00" y="285.47" width="16.7" height="0.9" fill="#333"/>
<rect x="144.00" y="287.59" width="16.7" height="0.9" fill="#333"/>
<rect x="144.00" y="289.71" width="16.7" height="0.9" fill="#333"/>
<rect x="144.00" y="291.83" width="16.7" height="0.9" fill="#333"/>
<rect x="144.00" y="293.95" width="16.7" height="0.9" fill="#333"/>
<rect x="144.00" y="296.07" width="16.7" height="0.9" fill="#333"/>
<rect x="144.00" y="298.19" width="16.7" height="0.9" fill="#333"/>
<rect x="144.00" y="300.31" width="16.7" height="0.9" fill="#333"/>
<rect x="144.00" y="302.43" width="16.7" height="0.9" fill="#333"/>
<rect x="144.00" y="304.55" width="16.7" height="0.9" fill="#333"/>
<rect x="144.00" y="306.67" width="16.7" height="0.9" fill="#333"/>
<rect x="144.00" y="308.79" width="16.7" height="0.9" fill="#333"/>
<rect x="144.00" y="310.91" width="16.7" height="0.9" fill="#333"/>
<line x1="131.75" y1="226.67" x2="131.75" y2="233.58" stroke="#222" stroke-width="0.9" />
<line x1="129.95" y1="226.67" x2="133.55" y2="226.67" stroke="#222" stroke-width="0.9" />
<line x1="129.95" y1="233.58" x2="133.55" y2="233.58" stroke="#222" stroke-width="0.9" />
<line x1="152.35" y1="223.64" x2="152.35" y2="225.37" stroke="#222" stroke-width="0.9" />
<line x1="150.55" y1="223.64" x2="154.15" y2="223.64" stroke="#222" stroke-width="0.9" />
<line x1="150.55" y1="225.37" x2="154.15" y2="225.37" stroke="#222" stroke-width="0.9" />
<text x="142.00" y="325.80" font-size="8.45" text-anchor="middle" font-weight="normal" fill="#222" stroke="#222" stroke-width="0.18" >PDN</text>
<rect x="195.50" y="263.82" width="16.3" height="49.68" fill="url(#dots)" stroke="#222" stroke-width="1"/>
<rect x="215.90" y="255.18" width="16.7" height="58.32" fill="#fff" stroke="#222" stroke-width="1"/>
<rect x="215.90" y="256.78" width="16.7" height="0.9" fill="#333"/>
<rect x="215.90" y="258.90" width="16.7" height="0.9" fill="#333"/>
<rect x="215.90" y="261.02" width="16.7" height="0.9" fill="#333"/>
<rect x="215.90" y="263.14" width="16.7" height="0.9" fill="#333"/>
<rect x="215.90" y="265.26" width="16.7" height="0.9" fill="#333"/>
<rect x="215.90" y="267.38" width="16.7" height="0.9" fill="#333"/>
<rect x="215.90" y="269.50" width="16.7" height="0.9" fill="#333"/>
<rect x="215.90" y="271.62" width="16.7" height="0.9" fill="#333"/>
<rect x="215.90" y="273.74" width="16.7" height="0.9" fill="#333"/>
<rect x="215.90" y="275.86" width="16.7" height="0.9" fill="#333"/>
<rect x="215.90" y="277.98" width="16.7" height="0.9" fill="#333"/>
<rect x="215.90" y="280.10" width="16.7" height="0.9" fill="#333"/>
<rect x="215.90" y="282.22" width="16.7" height="0.9" fill="#333"/>
<rect x="215.90" y="284.34" width="16.7" height="0.9" fill="#333"/>
<rect x="215.90" y="286.46" width="16.7" height="0.9" fill="#333"/>
<rect x="215.90" y="288.58" width="16.7" height="0.9" fill="#333"/>
<rect x="215.90" y="290.70" width="16.7" height="0.9" fill="#333"/>
<rect x="215.90" y="292.82" width="16.7" height="0.9" fill="#333"/>
<rect x="215.90" y="294.94" width="16.7" height="0.9" fill="#333"/>
<rect x="215.90" y="297.06" width="16.7" height="0.9" fill="#333"/>
<rect x="215.90" y="299.18" width="16.7" height="0.9" fill="#333"/>
<rect x="215.90" y="301.30" width="16.7" height="0.9" fill="#333"/>
<rect x="215.90" y="303.42" width="16.7" height="0.9" fill="#333"/>
<rect x="215.90" y="305.54" width="16.7" height="0.9" fill="#333"/>
<rect x="215.90" y="307.66" width="16.7" height="0.9" fill="#333"/>
<rect x="215.90" y="309.78" width="16.7" height="0.9" fill="#333"/>
<rect x="215.90" y="311.90" width="16.7" height="0.9" fill="#333"/>
<line x1="203.65" y1="259.50" x2="203.65" y2="268.14" stroke="#222" stroke-width="0.9" />
<line x1="201.85" y1="259.50" x2="205.45" y2="259.50" stroke="#222" stroke-width="0.9" />
<line x1="201.85" y1="268.14" x2="205.45" y2="268.14" stroke="#222" stroke-width="0.9" />
<line x1="224.25" y1="251.72" x2="224.25" y2="258.64" stroke="#222" stroke-width="0.9" />
<line x1="222.45" y1="251.72" x2="226.05" y2="251.72" stroke="#222" stroke-width="0.9" />
<line x1="222.45" y1="258.64" x2="226.05" y2="258.64" stroke="#222" stroke-width="0.9" />
<text x="213.90" y="325.80" font-size="8.45" text-anchor="middle" font-weight="normal" fill="#222" stroke="#222" stroke-width="0.18" >(M 80)</text>
<rect x="267.40" y="270.30" width="16.3" height="43.20" fill="url(#dots)" stroke="#222" stroke-width="1"/>
<rect x="287.80" y="256.48" width="16.7" height="57.02" fill="#fff" stroke="#222" stroke-width="1"/>
<rect x="287.80" y="258.08" width="16.7" height="0.9" fill="#333"/>
<rect x="287.80" y="260.20" width="16.7" height="0.9" fill="#333"/>
<rect x="287.80" y="262.32" width="16.7" height="0.9" fill="#333"/>
<rect x="287.80" y="264.44" width="16.7" height="0.9" fill="#333"/>
<rect x="287.80" y="266.56" width="16.7" height="0.9" fill="#333"/>
<rect x="287.80" y="268.68" width="16.7" height="0.9" fill="#333"/>
<rect x="287.80" y="270.80" width="16.7" height="0.9" fill="#333"/>
<rect x="287.80" y="272.92" width="16.7" height="0.9" fill="#333"/>
<rect x="287.80" y="275.04" width="16.7" height="0.9" fill="#333"/>
<rect x="287.80" y="277.16" width="16.7" height="0.9" fill="#333"/>
<rect x="287.80" y="279.28" width="16.7" height="0.9" fill="#333"/>
<rect x="287.80" y="281.40" width="16.7" height="0.9" fill="#333"/>
<rect x="287.80" y="283.52" width="16.7" height="0.9" fill="#333"/>
<rect x="287.80" y="285.64" width="16.7" height="0.9" fill="#333"/>
<rect x="287.80" y="287.76" width="16.7" height="0.9" fill="#333"/>
<rect x="287.80" y="289.88" width="16.7" height="0.9" fill="#333"/>
<rect x="287.80" y="292.00" width="16.7" height="0.9" fill="#333"/>
<rect x="287.80" y="294.12" width="16.7" height="0.9" fill="#333"/>
<rect x="287.80" y="296.24" width="16.7" height="0.9" fill="#333"/>
<rect x="287.80" y="298.36" width="16.7" height="0.9" fill="#333"/>
<rect x="287.80" y="300.48" width="16.7" height="0.9" fill="#333"/>
<rect x="287.80" y="302.60" width="16.7" height="0.9" fill="#333"/>
<rect x="287.80" y="304.72" width="16.7" height="0.9" fill="#333"/>
<rect x="287.80" y="306.84" width="16.7" height="0.9" fill="#333"/>
<rect x="287.80" y="308.96" width="16.7" height="0.9" fill="#333"/>
<rect x="287.80" y="311.08" width="16.7" height="0.9" fill="#333"/>
<line x1="275.55" y1="267.28" x2="275.55" y2="273.32" stroke="#222" stroke-width="0.9" />
<line x1="273.75" y1="267.28" x2="277.35" y2="267.28" stroke="#222" stroke-width="0.9" />
<line x1="273.75" y1="273.32" x2="277.35" y2="273.32" stroke="#222" stroke-width="0.9" />
<line x1="296.15" y1="253.88" x2="296.15" y2="259.07" stroke="#222" stroke-width="0.9" />
<line x1="294.35" y1="253.88" x2="297.95" y2="253.88" stroke="#222" stroke-width="0.9" />
<line x1="294.35" y1="259.07" x2="297.95" y2="259.07" stroke="#222" stroke-width="0.9" />
<text x="285.80" y="325.80" font-size="8.45" text-anchor="middle" font-weight="normal" fill="#222" stroke="#222" stroke-width="0.18" >(M 160)</text>
<rect x="127.6" y="188.2" width="4.2" height="4.2" fill="#777" stroke="#333" stroke-width="0.8"/>
<text x="133.30" y="192.80" font-size="8.4" text-anchor="start" font-weight="normal" fill="#222" stroke="#222" stroke-width="0.18" >Phase 1</text>
<rect x="166.6" y="188.4" width="4.2" height="4.2" fill="#fff" stroke="#222" stroke-width="1.2"/>
<line x1="166.60" y1="190.50" x2="170.80" y2="190.50" stroke="#222" stroke-width="1" />
<text x="173.20" y="192.80" font-size="8.4" text-anchor="start" font-weight="normal" fill="#222" stroke="#222" stroke-width="0.18" >Phase 2</text>
<path d="M130.00 223.30 L130.00 213.20 L151.30 213.20 L151.30 218.40" fill="none" stroke="#000" stroke-width="2" stroke-linejoin="round"/>
<text x="140.60" y="211.00" font-size="12.5" text-anchor="middle" font-weight="normal" fill="#222" stroke="#222" stroke-width="0.18" >*</text>
<path d="M202.20 251.30 L202.20 237.50 L223.60 237.50 L223.60 247.50" fill="none" stroke="#000" stroke-width="2" stroke-linejoin="round"/>
<text x="213.00" y="233.00" font-size="11.5" text-anchor="middle" font-weight="normal" fill="#222" stroke="#222" stroke-width="0.18" >**</text>
<path d="M274.60 258.80 L274.60 240.20 L295.50 240.20 L295.50 250.20" fill="none" stroke="#000" stroke-width="2" stroke-linejoin="round"/>
<text x="287.00" y="235.00" font-size="11.5" text-anchor="middle" font-weight="normal" fill="#222" stroke="#222" stroke-width="0.18" >**</text>
<line x1="394.50" y1="12.90" x2="394.50" y2="145.00" stroke="#444" stroke-width="1" />
<line x1="392.00" y1="144.50" x2="397.20" y2="144.50" stroke="#444" stroke-width="1" />
<text x="387.30" y="147.50" font-size="8.6" text-anchor="end" font-weight="normal" fill="#333" stroke="#333" stroke-width="0.18" >0.0</text>
<line x1="392.00" y1="118.20" x2="397.20" y2="118.20" stroke="#444" stroke-width="1" />
<text x="387.30" y="121.20" font-size="8.6" text-anchor="end" font-weight="normal" fill="#333" stroke="#333" stroke-width="0.18" >0.5</text>
<line x1="392.00" y1="91.90" x2="397.20" y2="91.90" stroke="#444" stroke-width="1" />
<text x="387.30" y="94.90" font-size="8.6" text-anchor="end" font-weight="normal" fill="#333" stroke="#333" stroke-width="0.18" >1.0</text>
<line x1="392.00" y1="65.60" x2="397.20" y2="65.60" stroke="#444" stroke-width="1" />
<text x="387.30" y="68.60" font-size="8.6" text-anchor="end" font-weight="normal" fill="#333" stroke="#333" stroke-width="0.18" >1.5</text>
<line x1="392.00" y1="39.30" x2="397.20" y2="39.30" stroke="#444" stroke-width="1" />
<text x="387.30" y="42.30" font-size="8.6" text-anchor="end" font-weight="normal" fill="#333" stroke="#333" stroke-width="0.18" >2.0</text>
<line x1="392.00" y1="13.00" x2="397.20" y2="13.00" stroke="#444" stroke-width="1" />
<text x="387.30" y="16.00" font-size="8.6" text-anchor="end" font-weight="normal" fill="#333" stroke="#333" stroke-width="0.18" >2.5</text>
<line x1="394.50" y1="144.50" x2="682.20" y2="144.50" stroke="#333" stroke-width="1" />
<text transform="translate(363,80.2) rotate(-90)" font-size="8.88" font-weight="bold" text-anchor="middle" fill="#111">Pain behaviour score</text>
<rect x="419.60" y="59.29" width="22.2" height="85.21" fill="url(#check)" stroke="#333" stroke-width="0.9"/>
<line x1="430.90" y1="56.13" x2="430.90" y2="62.44" stroke="#333" stroke-width="0.8" />
<line x1="429.10" y1="56.13" x2="432.70" y2="56.13" stroke="#333" stroke-width="0.8" />
<line x1="429.10" y1="62.44" x2="432.70" y2="62.44" stroke="#333" stroke-width="0.8" />
<text x="430.90" y="157.90" font-size="8.4" text-anchor="middle" font-weight="normal" fill="#222" stroke="#222" stroke-width="0.18" >Control</text>
<rect x="491.20" y="43.51" width="22.2" height="100.99" fill="url(#check)" stroke="#333" stroke-width="0.9"/>
<line x1="502.50" y1="39.83" x2="502.50" y2="47.19" stroke="#333" stroke-width="0.8" />
<line x1="500.70" y1="39.83" x2="504.30" y2="39.83" stroke="#333" stroke-width="0.8" />
<line x1="500.70" y1="47.19" x2="504.30" y2="47.19" stroke="#333" stroke-width="0.8" />
<text x="502.50" y="157.90" font-size="8.4" text-anchor="middle" font-weight="normal" fill="#222" stroke="#222" stroke-width="0.18" >PDN</text>
<rect x="562.50" y="85.06" width="22.2" height="59.44" fill="url(#check)" stroke="#333" stroke-width="0.9"/>
<line x1="573.80" y1="79.28" x2="573.80" y2="90.85" stroke="#333" stroke-width="0.8" />
<line x1="572.00" y1="79.28" x2="575.60" y2="79.28" stroke="#333" stroke-width="0.8" />
<line x1="572.00" y1="90.85" x2="575.60" y2="90.85" stroke="#333" stroke-width="0.8" />
<text x="573.80" y="157.90" font-size="8.4" text-anchor="middle" font-weight="normal" fill="#222" stroke="#222" stroke-width="0.18" >(M 80)</text>
<rect x="634.40" y="91.90" width="22.2" height="52.60" fill="url(#check)" stroke="#333" stroke-width="0.9"/>
<line x1="645.70" y1="88.74" x2="645.70" y2="95.06" stroke="#333" stroke-width="0.8" />
<line x1="643.90" y1="88.74" x2="647.50" y2="88.74" stroke="#333" stroke-width="0.8" />
<line x1="643.90" y1="95.06" x2="647.50" y2="95.06" stroke="#333" stroke-width="0.8" />
<text x="645.70" y="157.90" font-size="8.4" text-anchor="middle" font-weight="normal" fill="#222" stroke="#222" stroke-width="0.18" >(M 160)</text>
<text x="502.70" y="32.90" font-size="11" text-anchor="middle" font-weight="normal" fill="#333" stroke="#333" stroke-width="0.18" >*</text>
<text x="576.00" y="66.00" font-size="9.8" text-anchor="middle" font-weight="normal" fill="#333" stroke="#333" stroke-width="0.18" >##</text>
<text x="643.10" y="77.60" font-size="9.3" text-anchor="middle" font-weight="normal" fill="#333" stroke="#333" stroke-width="0.18" >§§</text>
<line x1="394.50" y1="181.10" x2="394.50" y2="314.00" stroke="#444" stroke-width="1" />
<line x1="392.00" y1="313.50" x2="397.20" y2="313.50" stroke="#444" stroke-width="1" />
<text x="386.80" y="316.30" font-size="8.3" text-anchor="end" font-weight="normal" fill="#666" stroke="#666" stroke-width="0.18" >0.0</text>
<line x1="392.00" y1="284.70" x2="397.20" y2="284.70" stroke="#444" stroke-width="1" />
<text x="386.80" y="287.50" font-size="8.3" text-anchor="end" font-weight="normal" fill="#666" stroke="#666" stroke-width="0.18" >0.5</text>
<line x1="392.00" y1="255.90" x2="397.20" y2="255.90" stroke="#444" stroke-width="1" />
<text x="386.80" y="258.70" font-size="8.3" text-anchor="end" font-weight="normal" fill="#666" stroke="#666" stroke-width="0.18" >1.0</text>
<line x1="392.00" y1="227.10" x2="397.20" y2="227.10" stroke="#444" stroke-width="1" />
<text x="386.80" y="229.90" font-size="8.3" text-anchor="end" font-weight="normal" fill="#666" stroke="#666" stroke-width="0.18" >1.5</text>
<line x1="392.00" y1="198.30" x2="397.20" y2="198.30" stroke="#444" stroke-width="1" />
<text x="386.80" y="201.10" font-size="8.3" text-anchor="end" font-weight="normal" fill="#666" stroke="#666" stroke-width="0.18" >2.0</text>
<line x1="394.50" y1="313.50" x2="682.50" y2="313.50" stroke="#333" stroke-width="1" />
<text transform="translate(363.3,248.3) rotate(-90)" font-size="8.9" font-weight="bold" text-anchor="middle" fill="#111">Pain behaviour score</text>
<rect x="419.30" y="203.77" width="22.6" height="109.73" fill="url(#check)" stroke="#333" stroke-width="0.9"/>
<line x1="430.70" y1="200.89" x2="430.70" y2="206.65" stroke="#333" stroke-width="0.8" />
<line x1="428.90" y1="200.89" x2="432.50" y2="200.89" stroke="#333" stroke-width="0.8" />
<line x1="428.90" y1="206.65" x2="432.50" y2="206.65" stroke="#333" stroke-width="0.8" />
<text x="430.70" y="325.50" font-size="8.4" text-anchor="middle" font-weight="normal" fill="#222" stroke="#222" stroke-width="0.18" >Control</text>
<rect x="491.40" y="194.84" width="22.6" height="118.66" fill="url(#check)" stroke="#333" stroke-width="0.9"/>
<line x1="502.80" y1="193.12" x2="502.80" y2="196.57" stroke="#333" stroke-width="0.8" />
<line x1="501.00" y1="193.12" x2="504.60" y2="193.12" stroke="#333" stroke-width="0.8" />
<line x1="501.00" y1="196.57" x2="504.60" y2="196.57" stroke="#333" stroke-width="0.8" />
<text x="502.80" y="325.50" font-size="8.4" text-anchor="middle" font-weight="normal" fill="#222" stroke="#222" stroke-width="0.18" >PDN</text>
<rect x="563.50" y="235.16" width="22.6" height="78.34" fill="url(#check)" stroke="#333" stroke-width="0.9"/>
<line x1="574.90" y1="230.56" x2="574.90" y2="239.77" stroke="#333" stroke-width="0.8" />
<line x1="573.10" y1="230.56" x2="576.70" y2="230.56" stroke="#333" stroke-width="0.8" />
<line x1="573.10" y1="239.77" x2="576.70" y2="239.77" stroke="#333" stroke-width="0.8" />
<text x="574.90" y="325.50" font-size="8.4" text-anchor="middle" font-weight="normal" fill="#222" stroke="#222" stroke-width="0.18" >(M 80)</text>
<rect x="635.80" y="237.47" width="22.6" height="76.03" fill="url(#check)" stroke="#333" stroke-width="0.9"/>
<line x1="647.20" y1="233.44" x2="647.20" y2="241.50" stroke="#333" stroke-width="0.8" />
<line x1="645.40" y1="233.44" x2="649.00" y2="233.44" stroke="#333" stroke-width="0.8" />
<line x1="645.40" y1="241.50" x2="649.00" y2="241.50" stroke="#333" stroke-width="0.8" />
<text x="647.20" y="325.50" font-size="8.4" text-anchor="middle" font-weight="normal" fill="#222" stroke="#222" stroke-width="0.18" >(M 160)</text>
<text x="573.00" y="219.80" font-size="9.6" text-anchor="middle" font-weight="normal" fill="#333" stroke="#333" stroke-width="0.18" >##</text>
<text x="646.50" y="225.80" font-size="9.3" text-anchor="middle" font-weight="normal" fill="#333" stroke="#333" stroke-width="0.18" >§§</text>
</svg>
</body></html>
